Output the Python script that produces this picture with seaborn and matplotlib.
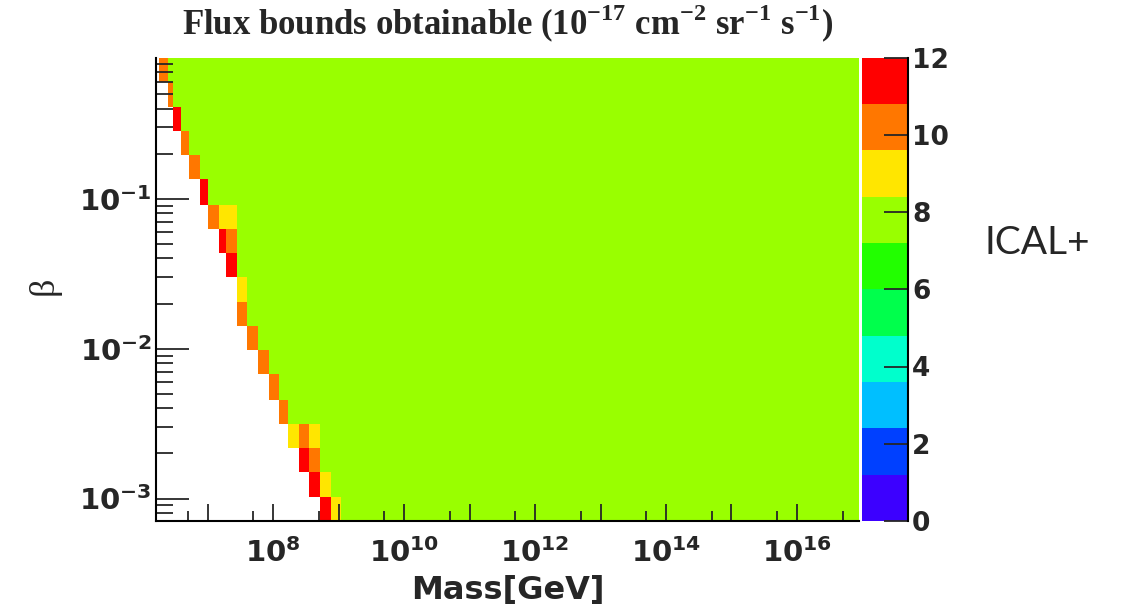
import numpy as np
import pandas as pd
import matplotlib
matplotlib.use("Agg")
import matplotlib.pyplot as plt
from matplotlib.colors import ListedColormap
from matplotlib.ticker import FixedLocator, FuncFormatter, NullFormatter
import seaborn as sns

# ---- data -----------------------------------------------------------------
# log10(mass / GeV) bin edges (the last bin covers the whole high-mass plateau)
mass_edges = [6.26, 6.39, 6.47, 6.59, 6.72, 6.88, 7.00, 7.17, 7.28, 7.45,
              7.60, 7.77, 7.94, 8.09, 8.22, 8.39, 8.55, 8.72, 8.88, 9.03,
              16.94]
# log10(beta) bin edges
beta_edges = [-3.15, -2.99, -2.82, -2.66, -2.50, -2.34, -2.17, -2.01, -1.85,
              -1.69, -1.52, -1.36, -1.20, -1.04, -0.87, -0.71, -0.55, -0.39,
              -0.22, -0.06]
# first populated mass bin in each beta bin (lowest beta first)
first_bin = [17, 16, 15, 14, 13, 12, 11, 10, 9, 9, 8, 7, 6, 5, 4, 3, 2, 1, 0]
# flux bounds (1e-17 cm^-2 sr^-1 s^-1) along the threshold edge, from first_bin on
edge_flux = [
    [11.4, 9.0],
    [11.4, 9.0],
    [11.4, 10.2],
    [9.0, 10.2, 9.0],
    [10.2],
    [10.2],
    [10.2],
    [10.2],
    [10.2],
    [9.0],
    [11.4],
    [11.4, 10.2],
    [10.2, 9.0, 9.0],
    [11.4],
    [10.2],
    [10.2],
    [11.4],
    [10.2],
    [10.2],
]
# flux bound over the rest of the accessible region
bulk_flux = 7.8

flux_levels = [0, 2, 4, 6, 8, 10, 12]
palette_colors = ["#3c00ff", "#0040ff", "#00bfff", "#00ffcc", "#00ff4c",
                  "#22ff00", "#99ff00", "#ffe600", "#ff7700", "#ff0000"]

# ---- one weighted entry per populated cell ---------------------------------
records = []
for r, start in enumerate(first_bin):
    beta_c = 10 ** ((beta_edges[r] + beta_edges[r + 1]) / 2)
    for c in range(start, len(mass_edges) - 1):
        k = c - start
        val = edge_flux[r][k] if k < len(edge_flux[r]) else bulk_flux
        records.append({
            "mass": 10 ** ((mass_edges[c] + mass_edges[c + 1]) / 2),
            "beta": beta_c,
            "flux": val,
        })
df = pd.DataFrame(records)

# ---- figure ----------------------------------------------------------------
sns.set_style("ticks")
plt.rcParams["font.family"] = ["DejaVu Sans"]
plt.rcParams["font.weight"] = "bold"
plt.rcParams["axes.axisbelow"] = False
plt.rcParams["mathtext.fontset"] = "custom"
plt.rcParams["mathtext.sf"] = "DejaVu Sans:bold"
plt.rcParams["mathtext.bf"] = "Liberation Serif:bold"
plt.rcParams["mathtext.rm"] = "Liberation Serif:bold"

W, H = 1122, 610
fig = plt.figure(figsize=(W / 100, H / 100), dpi=100)


def box(x0, y0, x1, y1):
    return [x0 / W, 1 - y1 / H, (x1 - x0) / W, (y1 - y0) / H]


ax = fig.add_axes(box(156, 58, 858.5, 521))
cax = fig.add_axes(box(861.7, 57.5, 908, 521))

flux_cmap = ListedColormap(palette_colors)

sns.histplot(data=df, x="mass", y="beta", weights="flux",
             bins=[mass_edges, beta_edges], log_scale=(True, True),
             cmap=flux_cmap, vmin=0, vmax=12, thresh=0,
             cbar=True, cbar_ax=cax, cbar_kws={"ticks": flux_levels},
             ax=ax)

ax.set_xlim(10 ** 6.21, 10 ** 16.94)
ax.set_ylim(10 ** -3.15, 10 ** -0.06)
ax.grid(False)
ax.set_axisbelow(False)

# spines
for side in ("top", "right"):
    ax.spines[side].set_visible(False)
for side in ("left", "bottom"):
    ax.spines[side].set_linewidth(1.5)
    ax.spines[side].set_color("black")
    ax.spines[side].set_zorder(5)

# mass axis ticks
ax.xaxis.set_major_locator(FixedLocator([10.0 ** k for k in range(7, 17)]))
ax.xaxis.set_minor_locator(FixedLocator([5 * 10.0 ** k for k in range(6, 17)]))


def mass_fmt(v, pos):
    e = int(round(np.log10(v)))
    return r"$\mathsf{10^{%d}}$" % e if e % 2 == 0 else ""


ax.xaxis.set_major_formatter(FuncFormatter(mass_fmt))
ax.xaxis.set_minor_formatter(NullFormatter())
ax.tick_params(axis="x", which="major", direction="in", length=12.2,
               width=1.3, labelsize=21, pad=12, top=False)
ax.tick_params(axis="x", which="minor", direction="in", length=7.2,
               width=1.3, top=False)

# beta axis ticks
ax.yaxis.set_major_locator(FixedLocator([1e-3, 1e-2, 1e-1]))
ax.yaxis.set_minor_locator(FixedLocator(
    [m * 10.0 ** k for k in (-4, -3, -2, -1) for m in range(2, 10)]))
ax.yaxis.set_major_formatter(FuncFormatter(
    lambda v, p: r"$\mathsf{10^{%d}}$" % int(round(np.log10(v)))))
ax.yaxis.set_minor_formatter(NullFormatter())
ax.tick_params(axis="y", which="major", direction="in", length=23.8,
               width=1.3, labelsize=21, pad=3, right=False)
ax.tick_params(axis="y", which="minor", direction="in", length=12.2,
               width=1.3, right=False)

# axis titles
ax.set_xlabel("Mass[GeV]", fontsize=23, fontweight="bold",
              family="DejaVu Sans")
ax.xaxis.set_label_coords((508 - 156) / 702.5, (521 - 590) / 463)
ax.xaxis.label.set_verticalalignment("center")

ax.set_ylabel("β", fontsize=26, fontweight="normal",
              family="Liberation Serif", rotation=90)
ax.yaxis.set_label_coords((44 - 156) / 702.5, (521 - 286) / 463)
ax.yaxis.label.set_verticalalignment("center")

# colour bar
cbar = ax.collections[-1].colorbar
cbar.outline.set_visible(False)
cbar.minorticks_off()
cax.set_axisbelow(False)
cax.spines["right"].set_visible(True)
cax.spines["right"].set_linewidth(1.5)
cax.spines["right"].set_color("black")
cax.spines["right"].set_zorder(5)
cax.tick_params(direction="in", length=17, width=1.3, labelsize=19, pad=3)
for lab in cax.get_yticklabels():
    lab.set_fontweight("bold")

# title and detector tag
fig.text(508 / W, 1 - 24 / H,
         r"Flux bounds obtainable (10$^{\mathbf{-17}}$ cm$^{\mathbf{-2}}$ "
         r"sr$^{\mathbf{-1}}$ s$^{\mathbf{-1}}$)",
         ha="center", va="center", fontsize=25, fontweight="bold",
         family="Liberation Serif")
fig.text(985 / W, 1 - 243 / H, "ICAL+", ha="left", va="center",
         fontsize=28, fontweight="normal", family="Lato")

fig.savefig("out.png", dpi=100)
